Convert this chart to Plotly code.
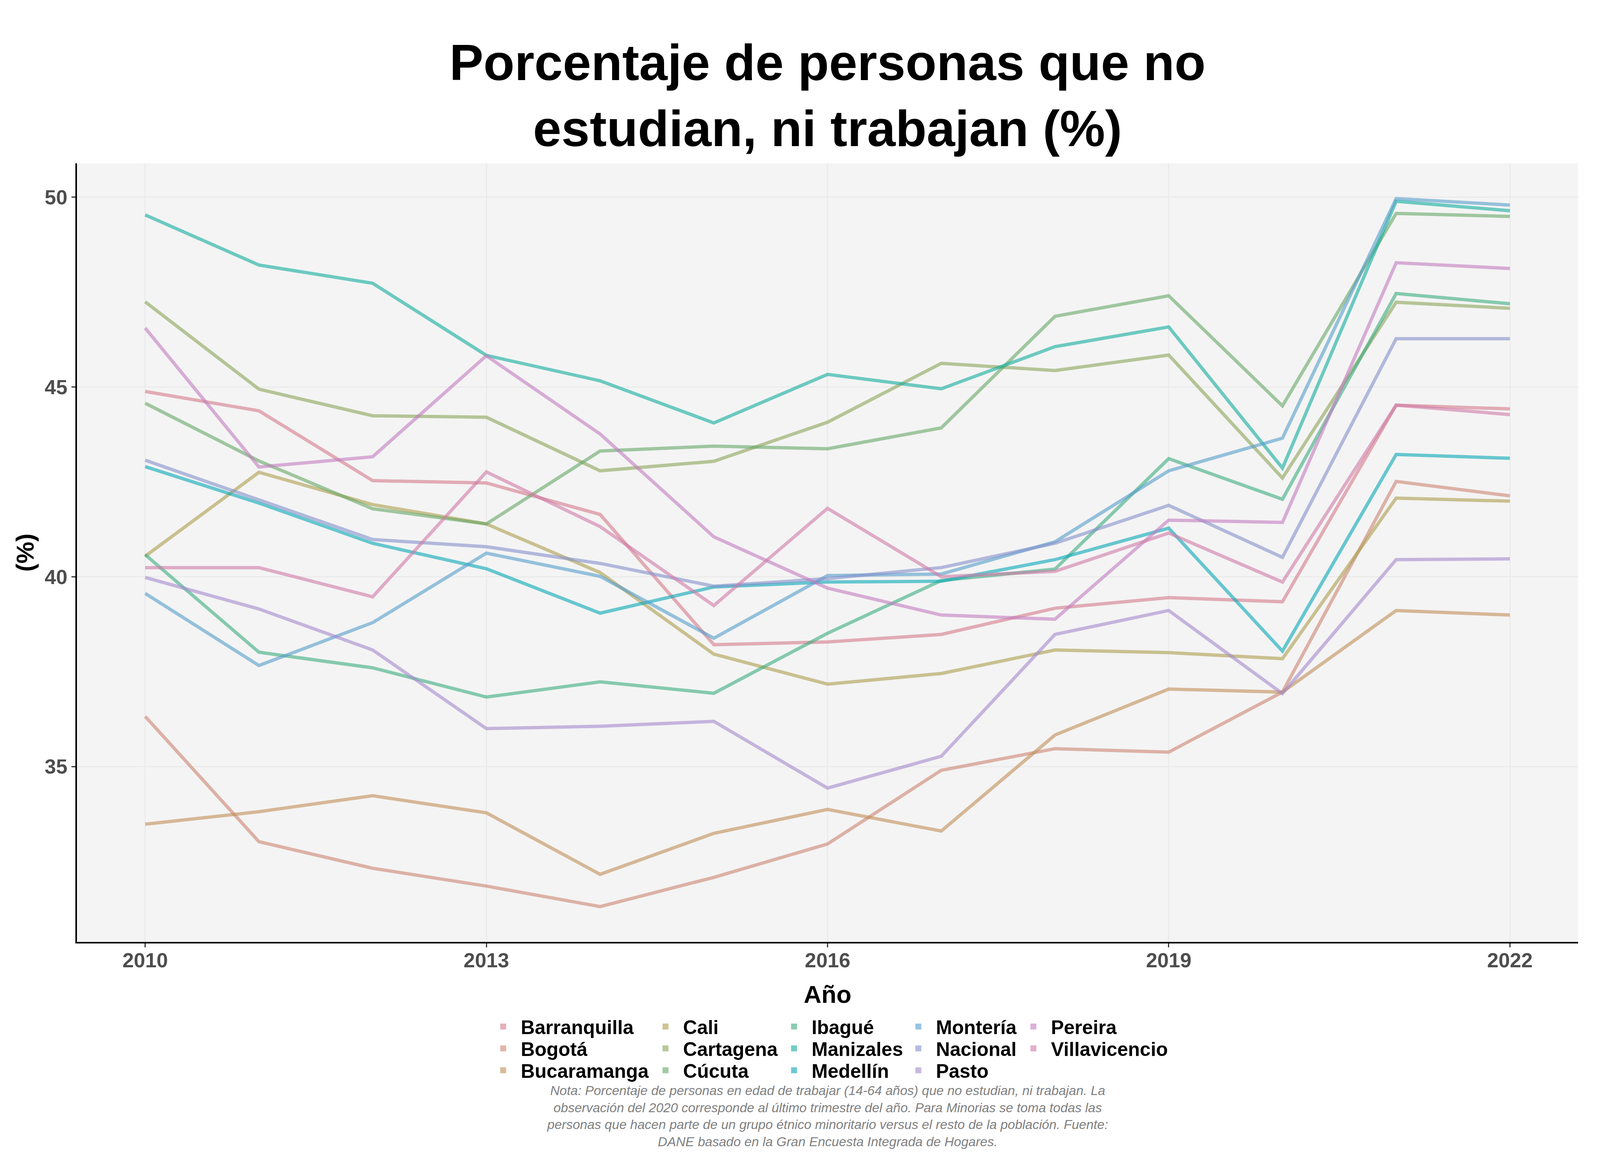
import plotly.graph_objects as go

# ---------------- data ----------------
years = [2010, 2011, 2012, 2013, 2014, 2015, 2016, 2017, 2018, 2019, 2020, 2021, 2022]

barranquilla  = [44.88, 44.37, 42.53, 42.47, 41.64, 38.21, 38.28, 38.48, 39.17, 39.45, 39.34, 44.52, 44.42]
bogota        = [36.32, 33.02, 32.32, 31.85, 31.31, 32.08, 32.96, 34.90, 35.47, 35.38, 36.96, 42.51, 42.13]
bucaramanga   = [33.48, 33.81, 34.23, 33.78, 32.16, 33.24, 33.87, 33.30, 35.83, 37.04, 36.96, 39.11, 38.99]
cali          = [40.54, 42.75, 41.90, 41.39, 40.11, 37.96, 37.17, 37.45, 38.07, 38.00, 37.84, 42.07, 41.99]
cartagena     = [47.24, 44.94, 44.24, 44.20, 42.79, 43.04, 44.07, 45.62, 45.43, 45.84, 42.60, 47.23, 47.07]
cucuta        = [44.57, 43.05, 41.79, 41.39, 43.31, 43.44, 43.37, 43.92, 46.86, 47.40, 44.50, 49.57, 49.49]
ibague        = [40.58, 38.01, 37.60, 36.83, 37.23, 36.93, 38.51, 39.90, 40.20, 43.11, 42.04, 47.46, 47.19]
manizales     = [49.53, 48.21, 47.73, 45.83, 45.16, 44.05, 45.33, 44.95, 46.06, 46.58, 42.86, 49.89, 49.64]
medellin      = [42.90, 41.94, 40.88, 40.21, 39.04, 39.73, 39.86, 39.88, 40.45, 41.28, 38.04, 43.22, 43.12]
monteria      = [39.56, 37.66, 38.79, 40.62, 40.01, 38.38, 40.03, 40.07, 40.92, 42.79, 43.65, 49.96, 49.79]
nacional      = [43.07, 42.03, 40.98, 40.79, 40.35, 39.75, 39.95, 40.24, 40.88, 41.88, 40.51, 46.27, 46.27]
pasto         = [39.98, 39.15, 38.07, 36.00, 36.06, 36.19, 34.43, 35.27, 38.48, 39.11, 36.92, 40.45, 40.47]
pereira       = [46.55, 42.89, 43.16, 45.82, 43.76, 41.05, 39.70, 38.99, 38.88, 41.49, 41.43, 48.27, 48.12]
villavicencio = [40.24, 40.24, 39.47, 42.76, 41.32, 39.24, 41.80, 40.00, 40.14, 41.15, 39.86, 44.52, 44.27]

city_names = ["Barranquilla", "Bogotá", "Bucaramanga", "Cali", "Cartagena", "Cúcuta",
              "Ibagué", "Manizales", "Medellín", "Montería", "Nacional", "Pasto",
              "Pereira", "Villavicencio"]
city_values = [barranquilla, bogota, bucaramanga, cali, cartagena, cucuta, ibague,
               manizales, medellin, monteria, nacional, pasto, pereira, villavicencio]

x_ticks = [2010, 2013, 2016, 2019, 2022]
y_ticks = [35, 40, 45, 50]

title_text = "Porcentaje de personas que no<br>estudian, ni trabajan (%)"
note_text = ("Nota: Porcentaje de personas en edad de trabajar (14-64 años) que no estudian, ni trabajan. La<br>"
             "observación del 2020 corresponde al último trimestre del año. Para Minorias se toma todas las<br>"
             "personas que hacen parte de un grupo étnico minoritario versus el resto de la población. Fuente:<br>"
             "DANE basado en la Gran Encuesta Integrada de Hogares.")

# ---------------- style ----------------
ALPHA = 0.6
base_colors = [
    (211, 121, 139), (204, 131, 113), (191, 142, 86), (171, 157, 77),
    (139, 164, 86), (102, 167, 102), (59, 172, 127), (17, 172, 157),
    (6, 166, 182), (84, 157, 201), (131, 144, 201), (164, 137, 204),
    (194, 124, 191), (206, 121, 167),
]
colors = ["rgba(%d,%d,%d,%.2f)" % (r, g, b, ALPHA) for r, g, b in base_colors]

# layout designed in reference pixels (4500 x 3000), mapped onto the page viewport
SX = 1 / 1.1      # horizontal scale
SY = 1.0          # vertical scale
SF = 1 / 1.05     # font scale
BODY = 8


def px(d):
    return d * SX - BODY


def py(d):
    return d * SY - BODY


def f(d):
    return d * SF


W = round(4500 * SX - 2 * BODY)
H = round(3000 * SY - 2 * BODY)
ML = px(217)
PR = px(4444)
MT = py(418)
PB = py(2411)
MR = W - PR
MB = H - PB
PW = PR - ML
PH = PB - MT
FONT = "Liberation Sans, Arial, Helvetica, sans-serif"

fig = go.Figure()

# data lines
for name, vals, col in zip(city_names, city_values, colors):
    fig.add_trace(go.Scatter(
        x=years, y=vals, mode="lines", name=name,
        line=dict(color=col, width=8.5),
        showlegend=False, hoverinfo="x+y+name",
    ))

# legend entries (square keys): 5 columns x 3 rows, column-major like the original
col_x = [1415, 1872, 2234, 2584, 2908]
row_y = [2628, 2684, 2740]
ITEMW = 80
legend_layouts = {}
for i, (name, col) in enumerate(zip(city_names, colors)):
    key = "legend" if i == 0 else "legend%d" % (i + 1)
    c, r = i // 3, i % 3
    fig.add_trace(go.Scatter(
        x=[None], y=[None], mode="markers", name=name,
        marker=dict(symbol="square", size=f(16), color=col),
        legend=key, showlegend=True, hoverinfo="skip",
    ))
    legend_layouts[key] = dict(
        x=(px(col_x[c]) - (3 + ITEMW / 2) - ML) / PW, xref="paper", xanchor="left",
        y=(PB - py(row_y[r])) / PH, yref="paper", yanchor="middle",
        bgcolor="rgba(0,0,0,0)", borderwidth=0, itemwidth=ITEMW,
        font=dict(family=FONT, size=f(52), color="black", weight="bold"),
        orientation="v",
    )

axis_common = dict(
    showline=True, linecolor="black", linewidth=3.8, mirror=False,
    ticks="outside", ticklen=10, tickwidth=2.8, tickcolor="#333333",
    showgrid=True, gridcolor="#ebebeb", gridwidth=3, zeroline=False,
    tickfont=dict(family=FONT, size=f(55), color="#4d4d4d", weight="bold"),
)

fig.update_layout(
    width=W, height=H,
    margin=dict(l=ML, r=MR, t=MT, b=MB, autoexpand=False),
    paper_bgcolor="white", plot_bgcolor="#f4f4f4",
    font=dict(family=FONT),
    title=dict(text=title_text, x=0.5, xref="paper", xanchor="center",
               y=1 - 196.6 / H, yref="container", yanchor="middle",
               font=dict(family=FONT, size=f(137), color="black", weight="bold")),
    xaxis=dict(axis_common, range=[2009.4, 2022.6], tickvals=x_ticks,
               ticklabelstandoff=-12,
               title=dict(text="Año", standoff=38,
                          font=dict(family=FONT, size=f(66), color="black", weight="bold"))),
    yaxis=dict(axis_common, range=[30.38, 50.89], tickvals=y_ticks,
               title=dict(text="(%)", standoff=8,
                          font=dict(family=FONT, size=f(66), color="black", weight="bold"))),
    annotations=[dict(
        text=note_text, x=0.5, xref="paper", xanchor="center",
        y=(PB - py(2857)) / PH, yref="paper", yanchor="middle",
        showarrow=False, align="center",
        font=dict(family=FONT, size=33.5, color="#7f7f7f", style="italic"),
    )],
    **legend_layouts,
)

fig.write_html("out.html")
